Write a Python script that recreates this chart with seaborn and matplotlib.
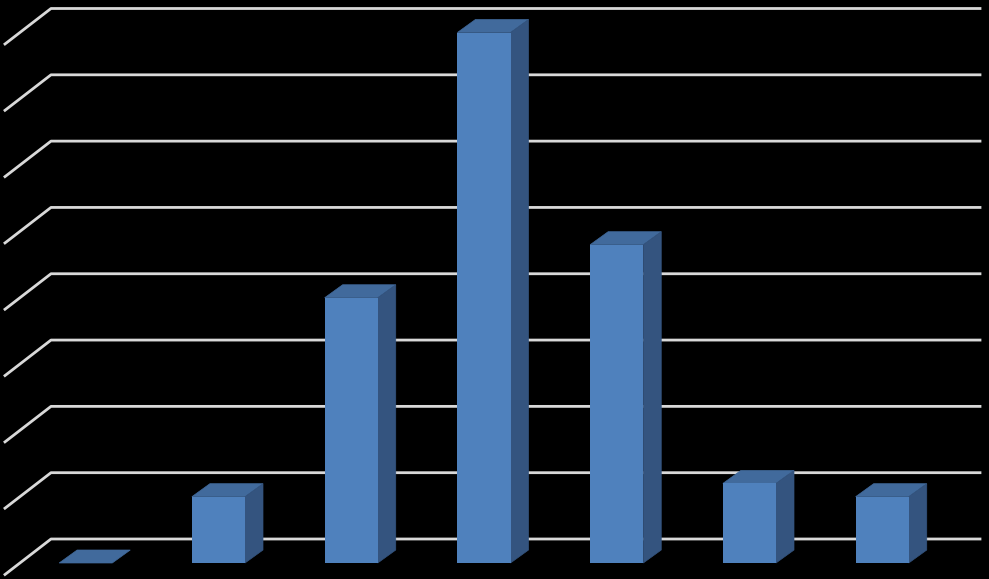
import matplotlib
matplotlib.use('Agg')
import matplotlib.pyplot as plt
import pandas as pd
import seaborn as sns
from matplotlib.patches import Polygon

categories = ['A', 'B', 'C', 'D', 'E', 'F', 'G']
values = [0, 5, 20, 40, 24, 6, 5]
grid_ticks = [0, 5, 10, 15, 20, 25, 30, 35, 40]

FRONT = '#4f81bd'
TOP = '#416a9c'
SIDE = '#34547f'
GRID = '#d9d9d9'

W, H = 989, 579
# where the front plane of the chart sits, in pixels
slot = 132.75
left = 85.7 - slot / 2
bottom = H - 563
height = 530.5

df = pd.DataFrame({'category': categories, 'value': values})

fig = plt.figure(figsize=(W / 100, H / 100), dpi=100, facecolor='black')
ax = fig.add_axes([left / W, bottom / H, slot * 7 / W, height / H])
ax.set_facecolor('none')

sns.barplot(data=df, x='category', y='value', color=FRONT, saturation=1,
            width=0.4, ax=ax, zorder=3)
ax.set_xlim(-0.5, 6.5)
ax.set_ylim(0, 40)
ax.set_axis_off()


def to_x(px):
    return (px - left) / slot - 0.5


def to_dy(px):
    return px / height * 40


# back wall lines and the side wall diagonals
for tick in grid_ticks:
    back_y = tick + to_dy(24)
    ax.plot([to_x(5), to_x(51), to_x(980)], [tick - to_dy(11.5), back_y, back_y],
            color=GRID, linewidth=2, zorder=1, clip_on=False)

# the 3d faces of each bar
depth_x = 18 / slot
depth_y = to_dy(13)
for bar in ax.patches[:len(values)]:
    x0 = bar.get_x()
    x1 = x0 + bar.get_width()
    top = bar.get_height()
    ax.add_patch(Polygon([(x0, top), (x1, top), (x1 + depth_x, top + depth_y), (x0 + depth_x, top + depth_y)],
                         facecolor=TOP, edgecolor=TOP, linewidth=0.5, zorder=2, clip_on=False))
    if top > 0:
        ax.add_patch(Polygon([(x1, 0), (x1 + depth_x, depth_y), (x1 + depth_x, top + depth_y), (x1, top)],
                             facecolor=SIDE, edgecolor=SIDE, linewidth=0.5, zorder=2, clip_on=False))

fig.savefig('out.png', dpi=100, facecolor='black')
